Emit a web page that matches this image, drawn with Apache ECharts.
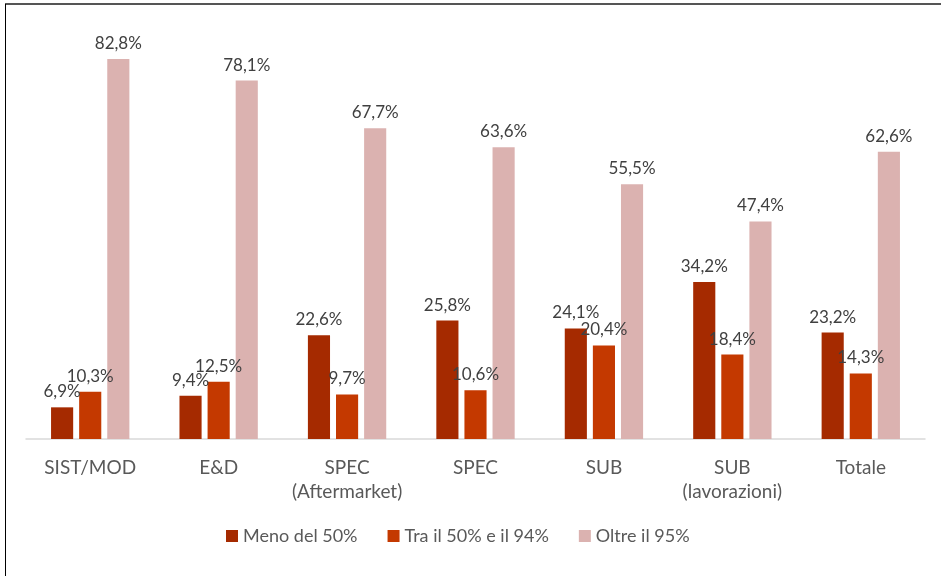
<!DOCTYPE html>
<html>
<head>
<meta charset="utf-8">
<script src="https://cdn.jsdelivr.net/npm/echarts@6/dist/echarts.min.js"></script>
<style>
  html, body { margin: 0; padding: 0; background: #fff; }
  #main { width: 941px; height: 576px; }
</style>
</head>
<body>
<div id="main"></div>
<script>
var categories = ['SIST/MOD', 'E&D', 'SPEC\n(Aftermarket)', 'SPEC', 'SUB', 'SUB\n(lavorazioni)', 'Totale'];
var seriesNames = ['Meno del 50%', 'Tra il 50% e il 94%', 'Oltre il 95%'];
var menoDel50 = [6.9, 9.4, 22.6, 25.8, 24.1, 34.2, 23.2];
var tra50e94 = [10.3, 12.5, 9.7, 10.6, 20.4, 18.4, 14.3];
var oltre95 = [82.8, 78.1, 67.7, 63.6, 55.5, 47.4, 62.6];

var colors = ['#A52A00', '#C43900', '#DBB2B0'];
var fontFamily = 'Lato, "Open Sans", sans-serif';

var myChart = echarts.init(document.getElementById('main'));

function makeSeries(name, data, color) {
    return {
        name: name,
        type: 'bar',
        data: data,
        barGap: '27%',
        barCategoryGap: '39%',
        itemStyle: { color: color },
        label: {
            show: true,
            position: 'top',
            distance: 7,
            color: '#404040',
            fontSize: 17,
            fontFamily: fontFamily,
            formatter: function (p) {
                return p.value.toFixed(1).replace('.', ',') + '%';
            }
        }
    };
}

var option = {
    animation: false,
    backgroundColor: '#fff',
    textStyle: { fontFamily: fontFamily },
    graphic: [
        { type: 'line', shape: { x1: 5, y1: 4, x2: 941, y2: 4 }, style: { stroke: '#555', lineWidth: 2 } },
        { type: 'line', shape: { x1: 5.5, y1: 4, x2: 5.5, y2: 576 }, style: { stroke: '#000', lineWidth: 1 } }
    ],
    grid: {
        left: 26,
        right: 16,
        top: 26,
        bottom: 137
    },
    legend: {
        bottom: 26,
        left: 221,
        itemWidth: 12,
        itemHeight: 12,
        itemGap: 30,
        icon: 'rect',
        textStyle: { color: '#595959', fontSize: 18, fontFamily: fontFamily },
        data: seriesNames
    },
    xAxis: {
        type: 'category',
        data: categories,
        axisLine: { lineStyle: { color: '#d9d9d9', width: 1.5 } },
        axisTick: { show: false },
        axisLabel: {
            interval: 0,
            color: '#595959',
            fontSize: 19,
            lineHeight: 24,
            margin: 17,
            fontFamily: fontFamily
        }
    },
    yAxis: {
        type: 'value',
        min: 0,
        max: 90,
        show: false
    },
    series: [
        makeSeries(seriesNames[0], menoDel50, colors[0]),
        makeSeries(seriesNames[1], tra50e94, colors[1]),
        makeSeries(seriesNames[2], oltre95, colors[2])
    ]
};

myChart.setOption(option);
</script>
</body>
</html>
